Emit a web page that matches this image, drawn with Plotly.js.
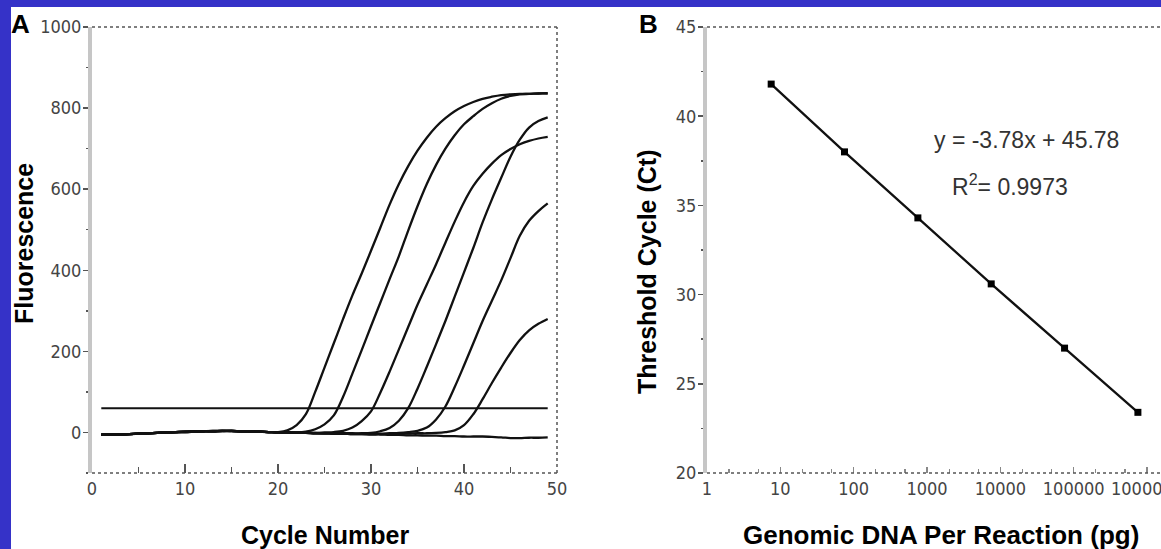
<!DOCTYPE html>
<html>
<head>
<meta charset="utf-8">
<script src="https://cdn.plot.ly/plotly-3.0.1.min.js"></script>
<style>
  html, body { margin: 0; padding: 0; background: #3532c8; width: 1161px; height: 549px; overflow: hidden; }
  #chart { position: absolute; left: 11px; top: 7px; width: 1150px; height: 542px; background: #fff; }
</style>
</head>
<body>
<div id="chart"></div>
<script>
// ---- Panel A data: fluorescence per cycle ----
const cycles = [1,2,3,4,5,6,7,8,9,10,11,12,13,14,15,16,17,18,19,20,21,22,23,24,25,26,27,28,29,30,31,32,33,34,35,36,37,38,39,40,41,42,43,44,45,46,47,48,49];

const sample1 = [-5,-6,-5,-4,-3,-2,-1,0,1,2,3,3,4,4,4,3,3,2,1,
  1,5,18,45,100,160,220,280,338,392,448,505,562,613,657,695,727,754,775,792,805,815,823,828,832,834,835,835,836,836];
const sample2 = [-6,-6,-5,-4,-3,-2,-1,0,1,2,2,3,3,4,4,3,3,2,1,
  0,0,0,2,8,20,42,88,145,203,262,320,378,435,498,558,613,660,700,733,760,780,798,812,823,830,834,835,836,837];
const sample3 = [-5,-5,-4,-4,-3,-2,-1,0,1,1,2,3,3,4,3,3,2,2,1,
  0,0,-1,-1,-1,0,1,4,12,28,52,98,150,205,260,315,365,415,468,520,568,608,638,663,684,699,711,719,725,729];
const sample4 = [-6,-5,-5,-4,-3,-2,-1,0,0,1,2,3,3,3,4,3,3,2,1,
  0,0,0,-1,-1,-2,-2,-2,-2,-2,-1,3,11,29,60,108,162,218,275,335,395,455,518,575,628,680,722,752,768,777];
const sample5 = [-5,-5,-5,-4,-3,-2,-1,0,1,1,2,3,3,4,4,3,2,2,1,
  0,0,-1,-1,-2,-2,-3,-3,-3,-3,-3,-3,-2,-1,1,4,12,32,64,112,165,220,275,325,375,430,485,522,546,565];
const sample6 = [-6,-6,-5,-4,-3,-2,-1,0,1,2,2,3,4,4,4,3,3,2,1,
  0,0,-1,-1,-2,-2,-3,-3,-4,-4,-4,-4,-4,-3,-3,-2,-2,-1,1,5,18,45,82,122,160,196,228,252,268,280];
const negative = [-6,-5,-5,-4,-3,-2,-1,0,1,2,2,3,3,4,4,3,3,2,1,
  0,0,-1,-1,-2,-2,-3,-3,-4,-4,-5,-5,-6,-6,-7,-7,-8,-8,-9,-9,-10,-10,-10,-11,-12,-14,-14,-13,-13,-12];

const thresholdX = [1, 49];
const thresholdY = [60, 60];

const xTicksA = [0, 10, 20, 30, 40, 50];
const yTicksA = [0, 200, 400, 600, 800, 1000];

// ---- Panel B data: standard curve ----
const dnaPg = [7.5, 75, 750, 7500, 75000, 750000];
const ctValues = [41.8, 38.0, 34.3, 30.6, 27.0, 23.4];
const xTicksB = [1, 10, 100, 1000, 10000, 100000, 1000000];
const xTickTextB = ['1', '10', '100', '1000', '10000', '100000', '1000000'];
const yTicksB = [20, 25, 30, 35, 40, 45];

const equationText = 'y = -3.78x + 45.78';
const r2Text = 'R<sup>2</sup>= 0.9973';

// ---- build traces ----
const curveStyle = {color: '#111', width: 2.3, shape: 'spline', smoothing: 1};
const samples = [sample1, sample2, sample3, sample4, sample5, sample6, negative];
const traces = samples.map(s => ({
  x: cycles, y: s, type: 'scatter', mode: 'lines', line: curveStyle,
  xaxis: 'x', yaxis: 'y', hoverinfo: 'skip'
}));
traces.push({
  x: thresholdX, y: thresholdY, type: 'scatter', mode: 'lines',
  line: {color: '#111', width: 2}, xaxis: 'x', yaxis: 'y'
});
traces.push({
  x: dnaPg, y: ctValues, type: 'scatter', mode: 'lines+markers',
  line: {color: '#111', width: 2.3},
  marker: {symbol: 'square', size: 7, color: '#000'},
  xaxis: 'x2', yaxis: 'y2'
});

const tickFont = {family: 'Liberation Sans Narrow, Arial Narrow, DejaVu Sans Condensed, sans-serif', size: 18, color: '#444'};
const titleFont = {family: 'Liberation Sans, Arial, sans-serif', size: 25, color: '#000'};
const tickCol = '#555';
const gridless = {showgrid: false, zeroline: false};

const L = 81, T = 20, W = 1150, H = 542, B = 76;
const pw = W - L, ph = H - T - B;
const px = v => (v - L) / pw;
const py = v => (H - B - v) / ph;

function dotted(xr, yr, x0, y0, x1, y1) {
  return {type: 'line', xref: xr, yref: yr, x0: x0, y0: y0, x1: x1, y1: y1,
          line: {color: '#555', width: 1.5, dash: 'dot'}};
}

const layout = {
  width: W, height: H,
  margin: {l: L, r: 0, t: T, b: B},
  paper_bgcolor: '#fff', plot_bgcolor: '#fff',
  showlegend: false,
  xaxis: Object.assign({
    domain: [0, (546 - L) / pw], range: [0, 50], anchor: 'y',
    tickmode: 'array', tickvals: xTicksA,
    ticks: 'inside', ticklen: 9, tickwidth: 1.5, tickcolor: tickCol,
    minor: {tickmode: 'linear', tick0: 0, dtick: 5, ticks: 'inside', ticklen: 6, tickwidth: 1.5, tickcolor: tickCol, showgrid: false},
    showline: false, tickfont: tickFont, ticklabelstandoff: 3
  }, gridless),
  yaxis: Object.assign({
    domain: [0, 1], range: [-100, 1000], anchor: 'x',
    tickmode: 'array', tickvals: yTicksA,
    ticks: 'outside', ticklen: 5, tickwidth: 1.5, tickcolor: tickCol,
    minor: {tickmode: 'linear', tick0: 0, dtick: 100, ticks: 'outside', ticklen: 2, tickwidth: 1.5, tickcolor: tickCol, showgrid: false},
    showline: true, linecolor: '#c6c6c6', linewidth: 4,
    tickfont: tickFont, ticklabelstandoff: -2
  }, gridless),
  xaxis2: Object.assign({
    type: 'log', domain: [(696 - L) / pw, 1], range: [0, 6.19], anchor: 'y2',
    tickmode: 'array', tickvals: xTicksB, ticktext: xTickTextB,
    ticks: 'inside', ticklen: 6, tickwidth: 1.5, tickcolor: '#888',
    minor: {ticks: 'inside', ticklen: 4, tickwidth: 1.2, tickcolor: '#888', showgrid: false},
    showline: false, tickfont: tickFont, ticklabelstandoff: 3,
    ticklabeloverflow: 'allow'
  }, gridless),
  yaxis2: Object.assign({
    domain: [0, 1], range: [20, 45], anchor: 'x2',
    tickmode: 'array', tickvals: yTicksB,
    ticks: 'outside', ticklen: 5, tickwidth: 1.5, tickcolor: tickCol,
    minor: {tickmode: 'linear', tick0: 20, dtick: 2.5, ticks: 'outside', ticklen: 2, tickwidth: 1.5, tickcolor: tickCol, showgrid: false},
    showline: true, linecolor: '#c6c6c6', linewidth: 4,
    tickfont: tickFont, ticklabelstandoff: -2
  }, gridless),
  shapes: [
    dotted('x domain', 'y domain', 0, 1, 1, 1),
    dotted('x domain', 'y domain', 1, 0, 1, 1),
    dotted('x domain', 'y domain', 0, 0, 1, 0),
    dotted('x2 domain', 'y2 domain', 0, 1, 1, 1),
    dotted('x2 domain', 'y2 domain', 0, 0, 1, 0)
  ],
  annotations: [
    {text: '<b>A</b>', xref: 'paper', yref: 'paper', x: px(9), y: py(17), showarrow: false,
     font: {family: 'Liberation Sans, Arial, sans-serif', size: 26, color: '#000'}, xanchor: 'center', yanchor: 'middle'},
    {text: '<b>B</b>', xref: 'paper', yref: 'paper', x: px(637), y: py(17), showarrow: false,
     font: {family: 'Liberation Sans, Arial, sans-serif', size: 26, color: '#000'}, xanchor: 'center', yanchor: 'middle'},
    {text: '<b>Fluorescence</b>', xref: 'paper', yref: 'paper', x: px(13), y: py(237), textangle: -90,
     showarrow: false, font: titleFont, xanchor: 'center', yanchor: 'middle'},
    {text: '<b>Cycle Number</b>', xref: 'paper', yref: 'paper', x: px(314), y: py(528),
     showarrow: false, font: titleFont, xanchor: 'center', yanchor: 'middle'},
    {text: '<b>Threshold Cycle (Ct)</b>', xref: 'paper', yref: 'paper', x: px(636), y: py(265), textangle: -90,
     showarrow: false, font: titleFont, xanchor: 'center', yanchor: 'middle'},
    {text: '<b>Genomic DNA Per Reaction (pg)</b>', xref: 'paper', yref: 'paper', x: px(930), y: py(528),
     showarrow: false, font: {family: 'Liberation Sans, Arial, sans-serif', size: 26, color: '#000'}, xanchor: 'center', yanchor: 'middle'},
    {text: equationText, xref: 'paper', yref: 'paper', x: px(1015), y: py(133),
     showarrow: false, font: {family: 'Liberation Sans, Arial, sans-serif', size: 23, color: '#333'}, xanchor: 'center', yanchor: 'middle'},
    {text: r2Text, xref: 'paper', yref: 'paper', x: px(999), y: py(178),
     showarrow: false, font: {family: 'Liberation Sans, Arial, sans-serif', size: 23, color: '#333'}, xanchor: 'center', yanchor: 'middle'}
  ]
};

Plotly.newPlot('chart', traces, layout, {staticPlot: true, displayModeBar: false});
</script>
</body>
</html>
